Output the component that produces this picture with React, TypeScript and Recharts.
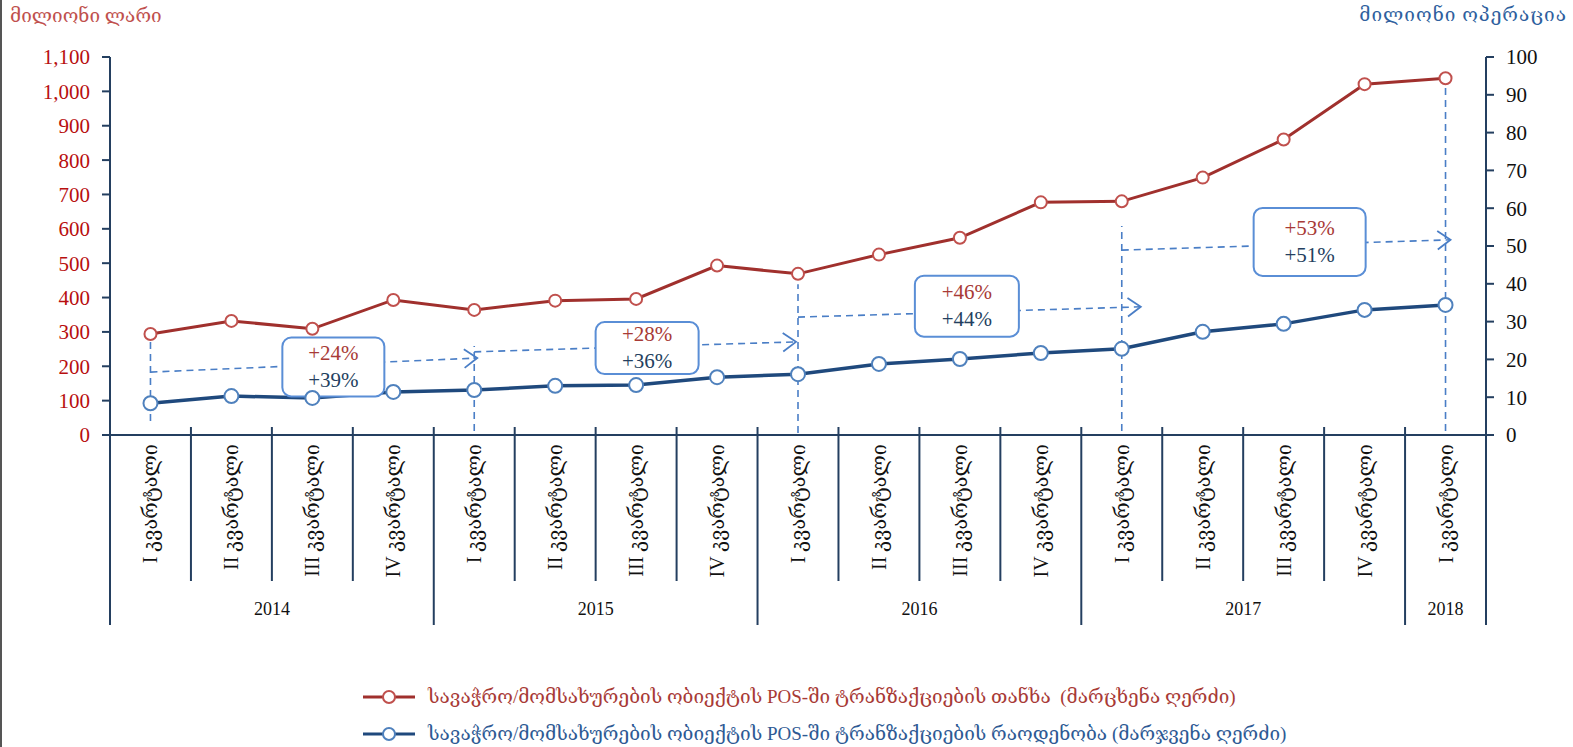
import React from 'react';
import { LineChart, Line, XAxis, YAxis, ReferenceLine, ReferenceDot, Legend } from 'recharts';

// quarters 2014 I .. 2018 I
const periods = [
  '2014 I', '2014 II', '2014 III', '2014 IV',
  '2015 I', '2015 II', '2015 III', '2015 IV',
  '2016 I', '2016 II', '2016 III', '2016 IV',
  '2017 I', '2017 II', '2017 III', '2017 IV',
  '2018 I',
];
const quarterNames = ['I', 'II', 'III', 'IV'];
const yearNames = ['2014', '2015', '2016', '2017', '2018'];

// მილიონი ლარი (left axis)
const amount = [294, 332, 309, 393, 364, 391, 396, 493, 469, 525, 574, 677, 680, 749, 860, 1021, 1038];
// მილიონი ოპერაცია (right axis)
const count = [8.4, 10.3, 9.8, 11.4, 11.9, 13.0, 13.2, 15.3, 16.1, 18.8, 20.1, 21.7, 22.8, 27.3, 29.4, 33.1, 34.4];

const leftTicks = [0, 100, 200, 300, 400, 500, 600, 700, 800, 900, 1000, 1100];
const rightTicks = [0, 10, 20, 30, 40, 50, 60, 70, 80, 90, 100];

const amountName = 'სავაჭრო/მომსახურების ობიექტის POS-ში ტრანზაქციების თანხა  (მარცხენა ღერძი)';
const countName = 'სავაჭრო/მომსახურების ობიექტის POS-ში ტრანზაქციების რაოდენობა (მარჯვენა ღერძი)';

// year-on-year growth call-outs
const growthAmount = ['+24%', '+28%', '+46%', '+53%'];
const growthCount = ['+39%', '+36%', '+44%', '+51%'];

// dashed guides (left-axis units)
const guideAt = ['2014 I', '2015 I', '2016 I', '2017 I', '2018 I'];
const guideTop = [274, 259, 439, 608, 1019];
const guideBottom = [41, 12, 6, 12, 12];
const arrowFrom = ['2014 I', '2015 I', '2016 I', '2017 I'];
const arrowTo = ['2015 I', '2016 I', '2017 I', '2018 I'];
const arrowY1 = [183, 242, 343, 538];
const arrowY2 = [224, 271, 373, 568];
const arrowExtra = [3, -2, 19, 5];
const boxAt = ['2014 III', '2015 III', '2016 III', '2017 III'];
const boxY = [198, 253, 375, 562];
const boxDx = [21, 11, 7, 26];
const boxW = [102, 103, 104, 112];
const boxH = [59, 52, 61, 68];

const W = 1573;
const H = 747;
const MARGIN = { top: 57, right: 27, bottom: 112, left: 50 };
const Y_AXIS_W = 60;
const PLOT_W = W - MARGIN.left - MARGIN.right - 2 * Y_AXIS_W;
const BAND = PLOT_W / periods.length;

const SERIF = "'Liberation Serif', 'DejaVu Serif', serif";
const NAVY = '#243f60';
const RED_LINE = '#a0302d';
const RED_DOT = '#c0504d';
const BLUE_LINE = '#1f497d';
const BLUE_DOT = '#4f81bd';
const GUIDE = '#4a7ec6';
const RED_TEXT = '#a83a36';

const data = periods.map((p, i) => ({ period: p, amount: amount[i], count: count[i] }));

function QuarterTick(props: any) {
  const { x, y, payload } = props;
  const i = payload.index;
  const q = i % 4;
  const yr = Math.floor(i / 4);
  const inYear = periods.filter((p) => p.startsWith(yearNames[yr])).length;
  const left = x - BAND / 2;
  const last = i === periods.length - 1;
  const top = y + 9;
  return (
    <g>
      <line x1={left} x2={left} y1={y - 8} y2={y + (q === 0 ? 190 : 146)} stroke={NAVY} strokeWidth={2} />
      {last && (
        <line x1={x + BAND / 2} x2={x + BAND / 2} y1={y - 8} y2={y + 190} stroke={NAVY} strokeWidth={2} />
      )}
      <text
        x={x}
        y={top}
        transform={`rotate(-90 ${x} ${top})`}
        textAnchor="end"
        dominantBaseline="central"
        fontFamily={SERIF}
        fontSize={20}
        fill="#111"
      >
        {quarterNames[q]} კვარტალი
      </text>
      {q === 0 && (
        <text
          x={x + ((inYear - 1) * BAND) / 2}
          y={y + 174}
          textAnchor="middle"
          dominantBaseline="central"
          fontFamily={SERIF}
          fontSize={18}
          fill="#111"
        >
          {yearNames[yr]}
        </text>
      )}
    </g>
  );
}

function arrowShape(i: number) {
  return (p: any) => {
    const { x1, y1, y2 } = p;
    const x2 = p.x2 + arrowExtra[i];
    const a = Math.atan2(y2 - y1, x2 - x1);
    const len = 16;
    const spread = 0.62;
    return (
      <g>
        <line x1={x1} y1={y1} x2={x2} y2={y2} stroke={GUIDE} strokeWidth={1.6} strokeDasharray="7 5" />
        <polyline
          points={`${x2 - len * Math.cos(a - spread)},${y2 - len * Math.sin(a - spread)} ${x2},${y2} ${
            x2 - len * Math.cos(a + spread)
          },${y2 - len * Math.sin(a + spread)}`}
          fill="none"
          stroke={GUIDE}
          strokeWidth={1.8}
        />
      </g>
    );
  };
}

function boxShape(i: number) {
  return (p: any) => {
    const cx = p.cx + boxDx[i];
    const cy = p.cy;
    const w = boxW[i];
    const h = boxH[i];
    return (
      <g>
        <rect x={cx - w / 2} y={cy - h / 2} width={w} height={h} rx={9} fill="#fff" stroke="#5a8ed6" strokeWidth={2} />
        <text x={cx} y={cy - 14} textAnchor="middle" dominantBaseline="central" fontFamily={SERIF} fontSize={21} fill={RED_TEXT}>
          {growthAmount[i]}
        </text>
        <text x={cx} y={cy + 13} textAnchor="middle" dominantBaseline="central" fontFamily={SERIF} fontSize={21} fill={NAVY}>
          {growthCount[i]}
        </text>
      </g>
    );
  };
}

function LegendRows(props: any) {
  const items = props.payload || [];
  return (
    <div style={{ fontFamily: SERIF, fontSize: 19 }}>
      {items.map((it: any) => {
        const dot = it.dataKey === 'amount' ? RED_DOT : BLUE_DOT;
        const txt = it.dataKey === 'amount' ? RED_TEXT : '#2e5a94';
        return (
          <div key={it.dataKey} style={{ display: 'flex', alignItems: 'center', height: 37 }}>
            <svg width={52} height={16} style={{ marginLeft: 363, marginRight: 13 }}>
              <line x1={0} x2={52} y1={8} y2={8} stroke={it.color} strokeWidth={3} />
              <circle cx={26} cy={8} r={6} fill="#fff" stroke={dot} strokeWidth={2} />
            </svg>
            <span style={{ color: txt, whiteSpace: 'pre' }}>{it.value}</span>
          </div>
        );
      })}
    </div>
  );
}

export default function App() {
  return (
    <div style={{ position: 'relative', width: W, height: H, background: '#fff', borderLeft: '2px solid #555', boxSizing: 'border-box' }}>
      <style>{'body{margin:0}'}</style>
      <div style={{ position: 'absolute', left: 8, top: 4, fontFamily: SERIF, fontSize: 19, color: '#c0504d' }}>
        მილიონი ლარი
      </div>
      <div style={{ position: 'absolute', right: 6, top: 3, fontFamily: SERIF, fontSize: 19, letterSpacing: 1, color: '#2f5f9e' }}>
        მილიონი ოპერაცია
      </div>
      <div style={{ position: 'absolute', left: -2, top: 0 }}>
        <LineChart width={W} height={H} data={data} margin={MARGIN}>
          <XAxis
            dataKey="period"
            interval={0}
            height={200}
            padding={{ left: BAND / 2, right: BAND / 2 }}
            tickLine={false}
            tickSize={0}
            tickMargin={0}
            axisLine={{ stroke: NAVY, strokeWidth: 2 }}
            tick={(p: any) => <QuarterTick {...p} />}
          />
          <YAxis
            yAxisId="left"
            domain={[0, 1100]}
            ticks={leftTicks}
            width={Y_AXIS_W}
            tickSize={8}
            tickMargin={12}
            tickFormatter={(v: number) => v.toLocaleString('en-US')}
            axisLine={{ stroke: NAVY, strokeWidth: 2 }}
            tickLine={{ stroke: NAVY, strokeWidth: 2 }}
            tick={{ fill: '#b80f0f', fontSize: 21, fontFamily: SERIF }}
          />
          <YAxis
            yAxisId="right"
            orientation="right"
            domain={[0, 100]}
            ticks={rightTicks}
            width={Y_AXIS_W}
            tickSize={8}
            tickMargin={12}
            axisLine={{ stroke: NAVY, strokeWidth: 2 }}
            tickLine={{ stroke: NAVY, strokeWidth: 2 }}
            tick={{ fill: '#111', fontSize: 21, fontFamily: SERIF }}
          />
          <Line
            yAxisId="left"
            dataKey="amount"
            name={amountName}
            stroke={RED_LINE}
            strokeWidth={3}
            dot={{ r: 6, fill: '#fff', stroke: RED_DOT, strokeWidth: 2 }}
            isAnimationActive={false}
          />
          <Line
            yAxisId="right"
            dataKey="count"
            name={countName}
            stroke={BLUE_LINE}
            strokeWidth={3.5}
            dot={{ r: 7, fill: '#fff', stroke: BLUE_DOT, strokeWidth: 2 }}
            isAnimationActive={false}
          />
          {guideAt.map((g, i) => (
            <ReferenceLine
              key={'g' + i}
              yAxisId="left"
              segment={[{ x: g, y: guideBottom[i] }, { x: g, y: guideTop[i] }]}
              stroke={GUIDE}
              strokeWidth={1.6}
              strokeDasharray="7 5"
            />
          ))}
          {arrowFrom.map((a, i) => (
            <ReferenceLine
              key={'a' + i}
              yAxisId="left"
              segment={[{ x: a, y: arrowY1[i] }, { x: arrowTo[i], y: arrowY2[i] }]}
              shape={arrowShape(i)}
            />
          ))}
          {boxAt.map((b, i) => (
            <ReferenceDot key={'b' + i} yAxisId="left" x={b} y={boxY[i]} r={1} shape={boxShape(i)} />
          ))}
          <Legend
            verticalAlign="middle"
            layout="horizontal"
            wrapperStyle={{ position: 'absolute', top: 678, left: 0, width: W }}
            content={(p: any) => <LegendRows {...p} />}
          />
        </LineChart>
      </div>
    </div>
  );
}
